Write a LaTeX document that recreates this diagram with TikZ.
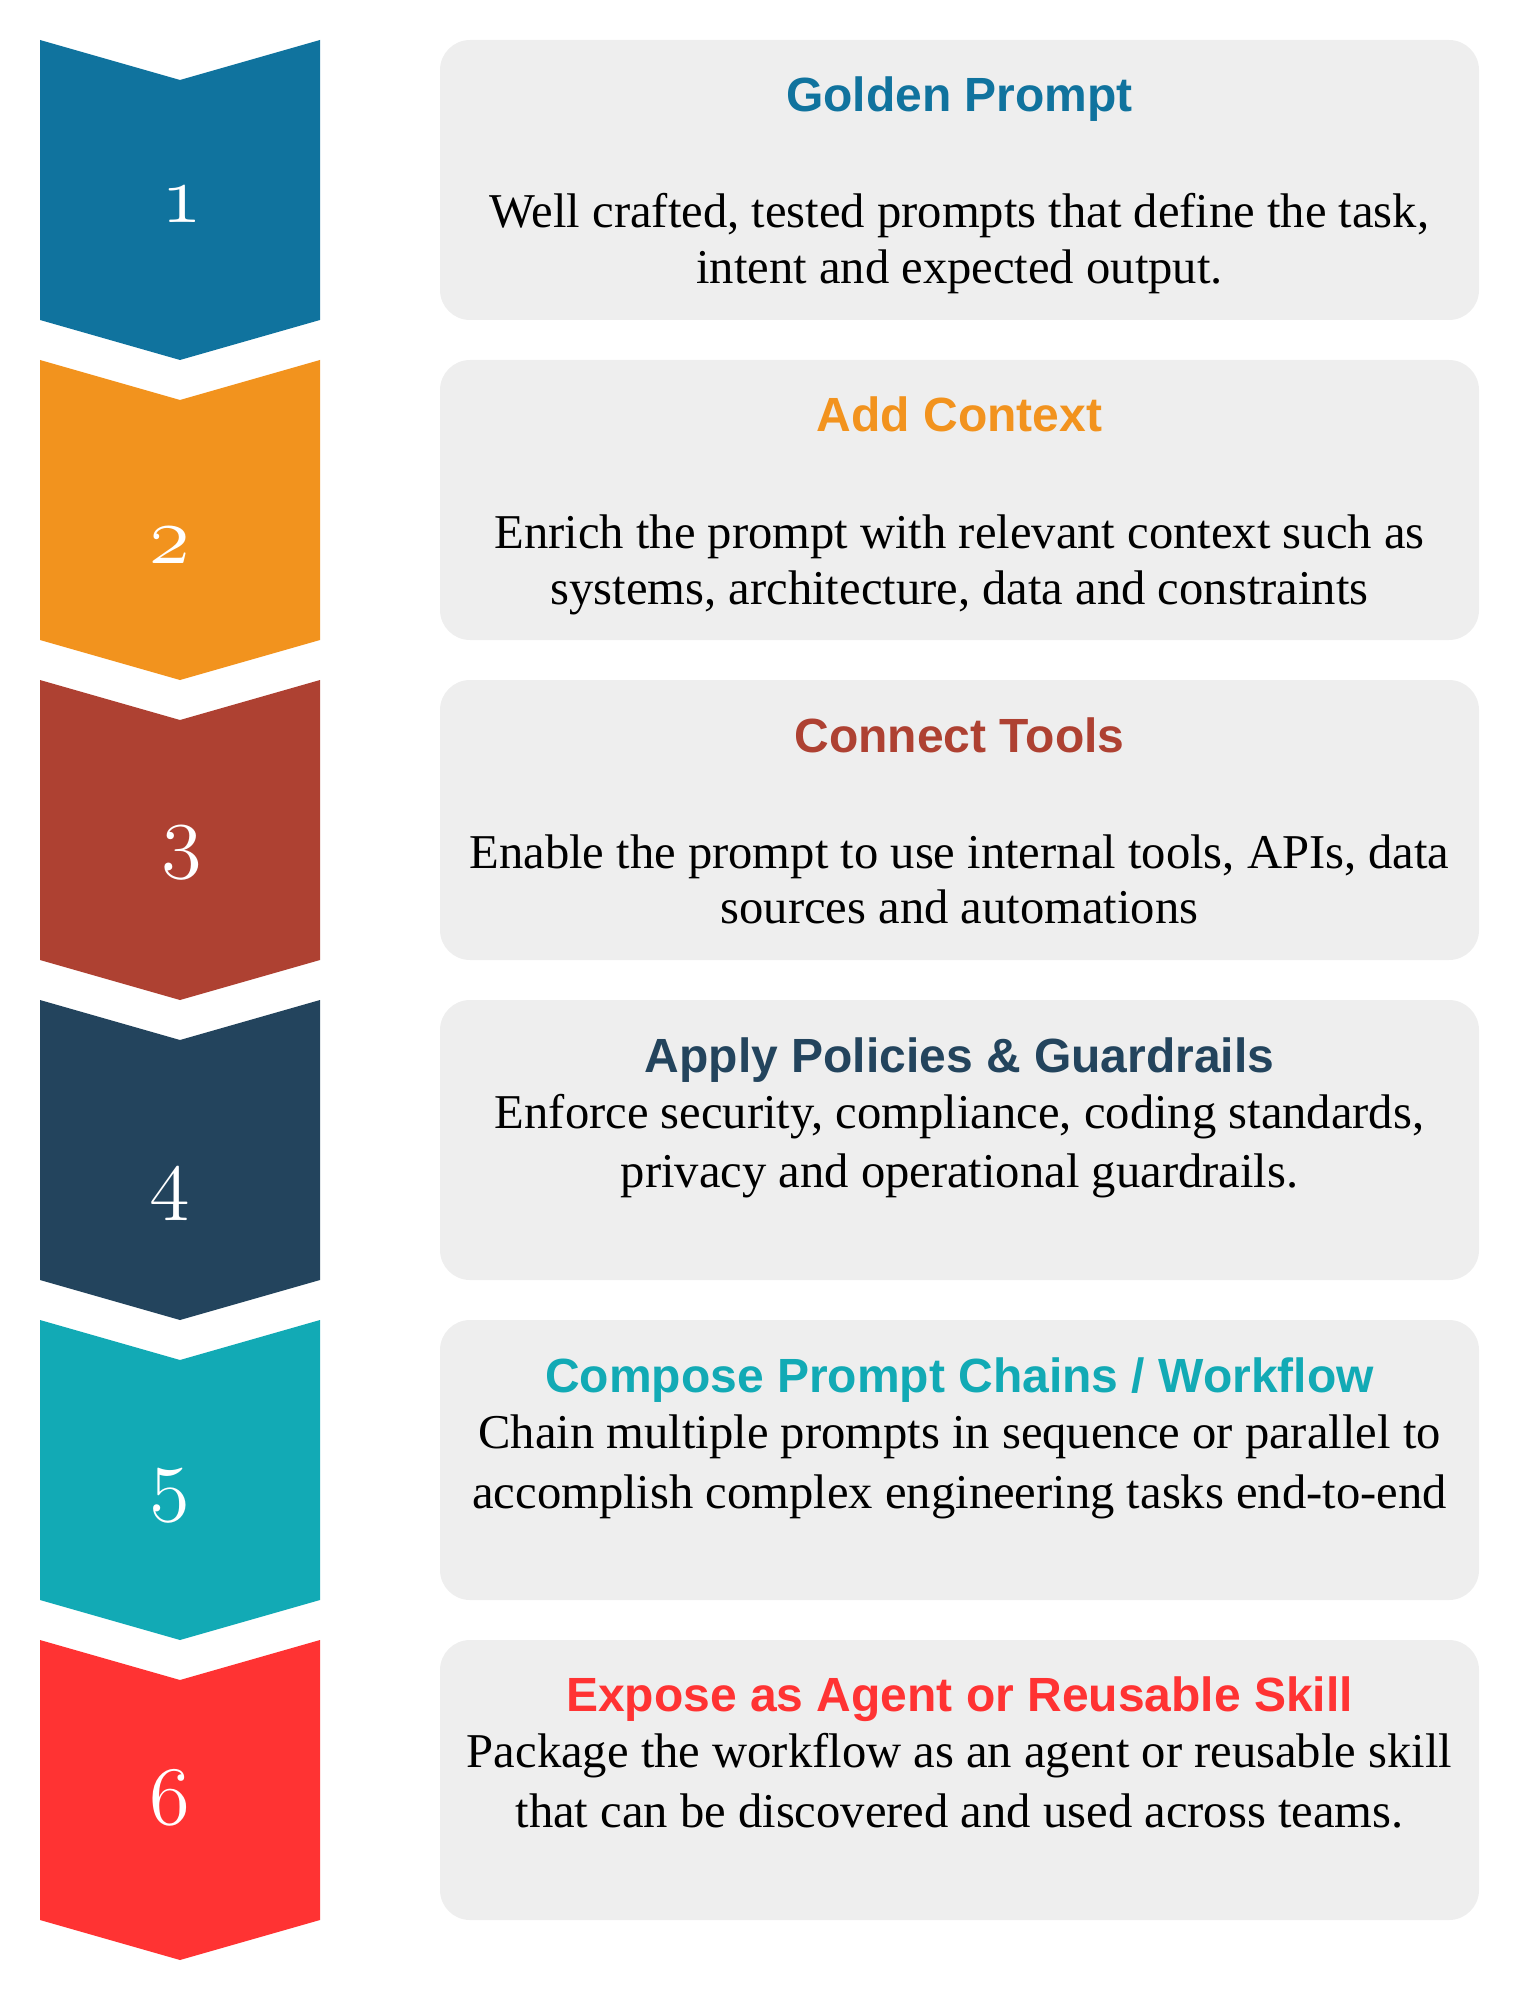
\documentclass[tikz,border=0pt]{standalone}
\usepackage{fontspec}
\usepackage{graphicx}
\setmainfont{Liberation Serif}
\newfontfamily\titlefont{Liberation Sans}
\definecolor{cA}{HTML}{10739E}
\definecolor{cB}{HTML}{F2931E}
\definecolor{cC}{HTML}{AE4132}
\definecolor{cD}{HTML}{23445D}
\definecolor{cE}{HTML}{12AAB5}
\definecolor{cF}{HTML}{FF3333}
\definecolor{boxgray}{HTML}{EEEEEE}
\newcommand{\bignum}[1]{\scalebox{2}{\fontsize{20}{24}\usefont{OML}{cmm}{m}{it}#1}}
\begin{document}
\begin{tikzpicture}[x=0.5pt,y=-0.5pt,
  boxnode/.style={fill=boxgray, draw=none, rounded corners=15pt, minimum width=519.5pt, minimum height=140pt, inner sep=0pt},
  ttl/.style={anchor=base, inner sep=0pt, font=\titlefont\bfseries\fontsize{24}{28}\selectfont},
  bdy/.style={anchor=base, inner sep=0pt, text=black, font=\fontsize{24.3}{28}\selectfont},
  num/.style={anchor=base, inner sep=0pt, text=white}]
\useasboundingbox (0,0) rectangle (1520,2000);
% chevrons
\foreach \i/\c in {0/cA,1/cB,2/cC,3/cD,4/cE,5/cF}{
  \pgfmathsetmacro{\t}{40+320*\i}
  \fill[\c] (40,\t) -- (180,\t+40) -- (320,\t) -- (320,\t+280) -- (180,\t+320) -- (40,\t+280) -- cycle;
}
% boxes
\node[boxnode] (box1) at (959.5,180) {};
\node[boxnode] (box2) at (959.5,500) {};
\node[boxnode] (box3) at (959.5,820) {};
\node[boxnode] (box4) at (959.5,1140) {};
\node[boxnode] (box5) at (959.5,1460) {};
\node[boxnode] (box6) at (959.5,1780) {};
% numbers
\node[num] (n1) at (182,223) {\bignum{1}};
\node[num] (n2) at (170,563) {\bignum{2}};
\node[num] (n3) at (182,862) {\bignum{3}};
\node[num] (n4) at (170,1204) {\bignum{4}};
\node[num] (n5) at (170,1505) {\bignum{5}};
\node[num] (n6) at (170,1824) {\bignum{6}};
% box 1
\node[ttl, text=cA] (t1) at (959.5,112) {Golden Prompt};
\node[bdy] (b1a) at (959.5,228) {Well crafted, tested prompts that define the task,};
\node[bdy] (b1b) at (959.5,284) {intent and expected output.};
% box 2
\node[ttl, text=cB] (t2) at (959.5,432) {Add Context};
\node[bdy] (b2a) at (959.5,548) {Enrich the prompt with relevant context such as};
\node[bdy] (b2b) at (959.5,604) {systems, architecture, data and constraints};
% box 3
\node[ttl, text=cC] (t3) at (959.5,752) {Connect Tools};
\node[bdy] (b3a) at (959.5,868) {Enable the prompt to use internal tools, APIs, data};
\node[bdy] (b3b) at (959.5,923) {sources and automations};
% box 4
\node[ttl, text=cD] (t4) at (959.5,1072) {Apply Policies \& Guardrails};
\node[bdy] (b4a) at (959.5,1128) {Enforce security, compliance, coding standards,};
\node[bdy] (b4b) at (959.5,1187) {privacy and operational guardrails.};
% box 5
\node[ttl, text=cE] (t5) at (959.5,1392) {Compose Prompt Chains / Workflow};
\node[bdy] (b5a) at (959.5,1448) {Chain multiple prompts in sequence or parallel to};
\node[bdy] (b5b) at (959.5,1508) {accomplish complex engineering tasks end-to-end};
% box 6
\node[ttl, text=cF] (t6) at (959.5,1711) {Expose as Agent or Reusable Skill};
\node[bdy] (b6a) at (959.5,1767) {Package the workflow as an agent or reusable skill};
\node[bdy] (b6b) at (959.5,1827) {that can be discovered and used across teams.};
\end{tikzpicture}
\end{document}
